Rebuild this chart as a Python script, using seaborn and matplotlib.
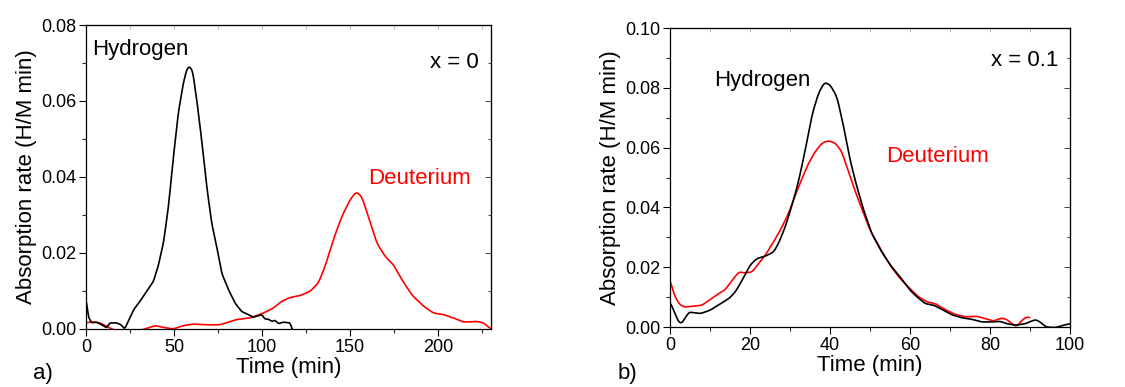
import numpy as np
import pandas as pd
import matplotlib
matplotlib.use("Agg")
import matplotlib.pyplot as plt
import seaborn as sns
from matplotlib.ticker import MultipleLocator, FormatStrFormatter

# panel a) x = 0
t_h0 = [0, 1.3, 3.2, 6, 9, 11.7, 13.6, 17.4, 20, 22, 24, 27, 30.7, 34.5, 38.3, 41, 44,
        46.8, 49.6, 52.5, 55.3, 57.2, 58.7, 60.6, 62.9, 65.7, 68.6, 71.4, 74.2, 77.1,
        80.9, 84.7, 88.4, 92.2, 95, 97.9, 99.8, 101.7, 103.6, 105.5, 107.4, 109.3, 112,
        116, 117.2]
h0 = [0.0082, 0.0033, 0.0016, 0.0018, 0.0011, 0.0003, 0.0016, 0.0016, 0.0011, 0.0,
      0.002, 0.005, 0.0073, 0.0099, 0.0125, 0.0165, 0.0226, 0.032, 0.045, 0.057,
      0.0647, 0.0682, 0.0691, 0.0678, 0.0604, 0.0498, 0.0375, 0.0279, 0.0218, 0.0147,
      0.0104, 0.0068, 0.0046, 0.0038, 0.0031, 0.0035, 0.0038, 0.0026, 0.0026, 0.002,
      0.0023, 0.0014, 0.0018, 0.0016, -0.0003]

t_d0 = [0, 4, 8, 11.7, 14.6, 20, 27, 33.5, 39.2, 44, 49.6, 55.3, 61, 68.6, 76, 81,
        85.6, 93.2, 100.8, 106.4, 111.2, 116, 121.6, 127.3, 132, 135.8, 140.5, 145.3,
        150, 153.4, 156.6, 160.4, 165.2, 169.9, 174.6, 179.4, 185, 191.7, 197.3, 203,
        208.7, 214.4, 222, 225.8, 230]
d0 = [0.0016, 0.0019, 0.0016, 0.0007, 0.0, -0.0008, -0.0008, 0.0, 0.0009, 0.0004,
      0.0, 0.0009, 0.0013, 0.0011, 0.0011, 0.0018, 0.0025, 0.0029, 0.0042, 0.0055,
      0.0073, 0.0083, 0.0088, 0.0099, 0.0121, 0.0165, 0.0235, 0.0296, 0.034, 0.0361,
      0.0349, 0.0296, 0.0226, 0.0191, 0.0169, 0.013, 0.009, 0.006, 0.0042, 0.0038,
      0.0029, 0.0018, 0.002, 0.0016, 0.0]

# panel b) x = 0.1
t_h1 = [0, 0.9, 1.75, 2.6, 3.4, 4.7, 5.9, 7.6, 10, 12.6, 14.7, 16.3, 18, 20, 21.7,
        23.8, 25.9, 27.1, 28.8, 30.5, 32.1, 33.8, 35.5, 37.1, 38.6, 40, 41.7, 43.4,
        45, 46.7, 48.4, 50.4, 52.9, 55.4, 57.5, 60, 61.7, 63.8, 65.9, 68.4, 70.4,
        72.9, 75.4, 77.9, 80.4, 82.5, 84.2, 86.3, 88.8, 91.3, 92.5, 94, 96.3, 98.3, 100]
h1 = [0.0084, 0.0056, 0.0028, 0.0009, 0.0022, 0.005, 0.0048, 0.0045, 0.0056, 0.0078,
      0.0095, 0.0117, 0.0156, 0.0207, 0.0229, 0.0237, 0.0251, 0.0279, 0.0335, 0.0408,
      0.0486, 0.0592, 0.071, 0.0782, 0.0818, 0.081, 0.0771, 0.067, 0.0559, 0.0469,
      0.0391, 0.0313, 0.0251, 0.0201, 0.0168, 0.0123, 0.0101, 0.0078, 0.0073, 0.0056,
      0.0041, 0.0031, 0.0026, 0.0017, 0.0017, 0.0019, 0.0011, 0.0006, 0.0011, 0.0025,
      0.0017, 0.0, -0.0002, 0.0006, 0.0011]

t_d1 = [0, 0.9, 2.2, 3.4, 5.5, 8, 9.7, 12.2, 13.8, 15.5, 17.2, 18.8, 20.5, 22.1, 23.8,
        25.9, 28, 29.6, 31.3, 33, 34.6, 36.3, 38, 39.6, 41.3, 42.9, 44.6, 46.3, 47.9,
        50, 52.5, 55, 57.5, 60, 62.1, 64.2, 66.3, 68.8, 71.3, 73.8, 76.7, 78.8, 80.8,
        82.9, 84.2, 85.4, 86.7, 87.9, 89.2, 89.9]
d1 = [0.0159, 0.0112, 0.0078, 0.0067, 0.0069, 0.0073, 0.0089, 0.0112, 0.0125, 0.0156,
      0.0184, 0.0181, 0.0184, 0.0212, 0.024, 0.0285, 0.0335, 0.038, 0.0441, 0.0497,
      0.0547, 0.0587, 0.0615, 0.0623, 0.0615, 0.0587, 0.052, 0.0453, 0.0397, 0.0324,
      0.0263, 0.0207, 0.0162, 0.0128, 0.0101, 0.0084, 0.0078, 0.0058, 0.0042, 0.0034,
      0.0036, 0.0028, 0.002, 0.003, 0.0025, 0.0011, 0.0002, 0.0022, 0.0034, 0.0031]

sns.set_style("ticks")
plt.rcParams["font.family"] = ["Liberation Sans", "DejaVu Sans"]
plt.rcParams["text.color"] = "black"
plt.rcParams["axes.labelcolor"] = "black"

fig = plt.figure(figsize=(11.25, 3.87), dpi=100)
ax1 = fig.add_axes([0.0764, 0.1499, 0.36, 0.7855])
ax2 = fig.add_axes([0.5956, 0.155, 0.3556, 0.7726])


def smooth(t, y):
    # dense trace through the read points, lightly smoothed
    tt = np.linspace(t[0], t[-1], 600)
    yy = np.interp(tt, t, y)
    k = 3
    yy = np.convolve(np.pad(yy, k, mode="edge"), np.ones(2 * k + 1) / (2 * k + 1), "valid")
    return pd.DataFrame({"t": tt, "y": yy})


def draw(ax, th, h, td, d, xmax, ymax, xmaj, xmin_):
    sns.lineplot(data=smooth(td, d), x="t", y="y", ax=ax, color="red", lw=1.2)
    sns.lineplot(data=smooth(th, h), x="t", y="y", ax=ax, color="black", lw=1.2)
    ax.set_xlim(0, xmax)
    ax.set_ylim(0, ymax)
    ax.xaxis.set_major_locator(MultipleLocator(xmaj))
    ax.xaxis.set_minor_locator(MultipleLocator(xmin_))
    ax.yaxis.set_major_locator(MultipleLocator(0.02))
    ax.yaxis.set_minor_locator(MultipleLocator(0.01))
    ax.yaxis.set_major_formatter(FormatStrFormatter("%.2f"))
    ax.tick_params(which="major", direction="out", length=5, width=0.8, labelsize=13,
                   colors="black", pad=2)
    ax.tick_params(which="minor", direction="out", length=3, width=0.8)
    for s in ax.spines.values():
        s.set_color("black")
        s.set_linewidth(0.9)
    ax.set_xlabel("Time (min)", fontsize=16, labelpad=1)
    ax.set_ylabel("Absorption rate (H/M min)", fontsize=16, labelpad=3)
    # inward ticks on the right and top
    sy = ax.secondary_yaxis("right")
    sy.yaxis.set_major_locator(MultipleLocator(0.02))
    sy.yaxis.set_minor_locator(MultipleLocator(0.01))
    sy.tick_params(which="both", direction="in", labelright=False, length=4, width=0.6)
    sy.tick_params(which="minor", length=2.5)
    sx = ax.secondary_xaxis("top")
    sx.xaxis.set_major_locator(MultipleLocator(xmaj))
    sx.xaxis.set_minor_locator(MultipleLocator(xmin_))
    sx.tick_params(which="both", direction="in", labeltop=False, length=3, width=0.4,
                   colors="#888888")


draw(ax1, t_h0, h0, t_d0, d0, 230, 0.08, 50, 25)
draw(ax2, t_h1, h1, t_d1, d1, 100, 0.10, 20, 10)

ax1.text(0.015, 0.955, "Hydrogen", transform=ax1.transAxes, fontsize=16, va="top", ha="left")
ax1.text(0.97, 0.91, "x = 0", transform=ax1.transAxes, fontsize=16, va="top", ha="right")
ax1.text(0.95, 0.53, "Deuterium", transform=ax1.transAxes, fontsize=16, va="top",
         ha="right", color="red")
ax2.text(0.11, 0.86, "Hydrogen", transform=ax2.transAxes, fontsize=16, va="top", ha="left")
ax2.text(0.97, 0.925, "x = 0.1", transform=ax2.transAxes, fontsize=16, va="top", ha="right")
ax2.text(0.54, 0.605, "Deuterium", transform=ax2.transAxes, fontsize=16, va="top",
         ha="left", color="red")

fig.text(0.029, 0.035, "a)", fontsize=16, va="center", ha="left")
fig.text(0.549, 0.035, "b)", fontsize=16, va="center", ha="left")

fig.savefig("out.png", dpi=100)
